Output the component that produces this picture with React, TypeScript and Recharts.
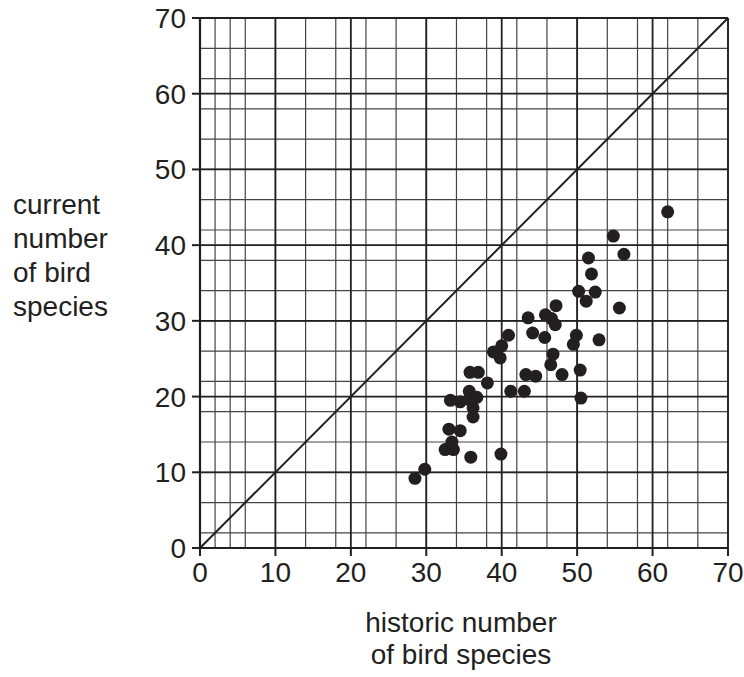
import {
  CartesianGrid,
  ReferenceLine,
  Scatter,
  ScatterChart,
  XAxis,
  YAxis,
} from "recharts";

// historic (x) and current (y) number of bird species
const historic = [
  28.5, 29.8, 32.5, 33.6, 33.4, 33.0, 34.5, 35.9, 39.9, 36.2, 36.2, 33.2, 34.5,
  35.7, 35.7, 36.7, 35.8, 36.9, 38.1, 41.2, 43.0, 43.2, 44.5, 48.0, 50.5, 50.4,
  46.5, 46.8, 39.8, 38.9, 40.0, 40.9, 44.1, 45.7, 49.9, 49.5, 52.9, 43.5, 45.8,
  46.6, 47.1, 47.2, 51.2, 50.2, 52.4, 55.6, 51.5, 51.9, 54.8, 56.2, 62.0,
];
const current = [
  9.2, 10.4, 13.0, 13.0, 14.0, 15.7, 15.5, 12.0, 12.4, 17.3, 18.5, 19.5, 19.3,
  20.7, 19.6, 19.9, 23.2, 23.2, 21.8, 20.7, 20.7, 22.9, 22.7, 22.9, 19.8, 23.5,
  24.2, 25.6, 25.1, 25.9, 26.7, 28.1, 28.4, 27.8, 28.1, 26.9, 27.5, 30.4, 30.8,
  30.3, 29.5, 32.0, 32.6, 33.9, 33.8, 31.7, 38.3, 36.2, 41.2, 38.8, 44.4,
];

const majorTicks = [0, 10, 20, 30, 40, 50, 60, 70];
const minorTicks = [
  0, 2, 4, 6, 8, 10, 12, 14, 16, 18, 20, 22, 24, 26, 28, 30, 32, 34, 36, 38,
  40, 42, 44, 46, 48, 50, 52, 54, 56, 58, 60, 62, 64, 66, 68, 70,
];

const points = historic.map((h, i) => ({ x: h, y: current[i] }));

const ink = "#231f20";
const font = "'Liberation Sans', Arial, sans-serif";
const tickStyle = { fontSize: 28, fill: ink, fontFamily: font };

export default function App() {
  // fixed so nothing can push a scrollbar into the window
  return (
    <div
      style={{
        position: "fixed",
        left: 0,
        top: 0,
        width: 744,
        height: 677,
        fontFamily: font,
        background: "#fff",
      }}
    >
      <ScatterChart
        width={744}
        height={677}
        margin={{ top: 18, right: 16, left: 0, bottom: 0 }}
        style={{ overflow: "visible" }}
      >
        <CartesianGrid
          stroke="#444"
          strokeWidth={1.2}
          horizontalValues={minorTicks}
          verticalValues={minorTicks}
        />
        <CartesianGrid
          stroke={ink}
          strokeWidth={1.8}
          horizontalValues={majorTicks}
          verticalValues={majorTicks}
        />
        <XAxis
          type="number"
          dataKey="x"
          domain={[0, 70]}
          ticks={majorTicks}
          height={129}
          tickSize={8}
          tickMargin={6}
          tick={tickStyle}
          stroke={ink}
          strokeWidth={2.2}
          tickLine={{ stroke: ink, strokeWidth: 2 }}
        />
        <YAxis
          type="number"
          dataKey="y"
          domain={[0, 70]}
          ticks={majorTicks}
          width={200}
          tickSize={8}
          tickMargin={6}
          tick={tickStyle}
          stroke={ink}
          strokeWidth={2.2}
          tickLine={{ stroke: ink, strokeWidth: 2 }}
        />
        <ReferenceLine
          segment={[
            { x: 0, y: 0 },
            { x: 70, y: 70 },
          ]}
          stroke={ink}
          strokeWidth={2}
        />
        <Scatter
          data={points}
          fill={ink}
          isAnimationActive={false}
          shape={(p: any) => <circle cx={p.cx} cy={p.cy} r={6.5} fill={ink} />}
        />
      </ScatterChart>
      <div
        style={{
          position: "absolute",
          left: 13,
          top: 188,
          fontSize: 28,
          lineHeight: "34px",
          color: ink,
        }}
      >
        current
        <br />
        number
        <br />
        of bird
        <br />
        species
      </div>
      <div
        style={{
          position: "absolute",
          left: 311,
          width: 300,
          top: 607,
          textAlign: "center",
          fontSize: 28,
          lineHeight: "32px",
          color: ink,
        }}
      >
        historic number
        <br />
        of bird species
      </div>
    </div>
  );
}
